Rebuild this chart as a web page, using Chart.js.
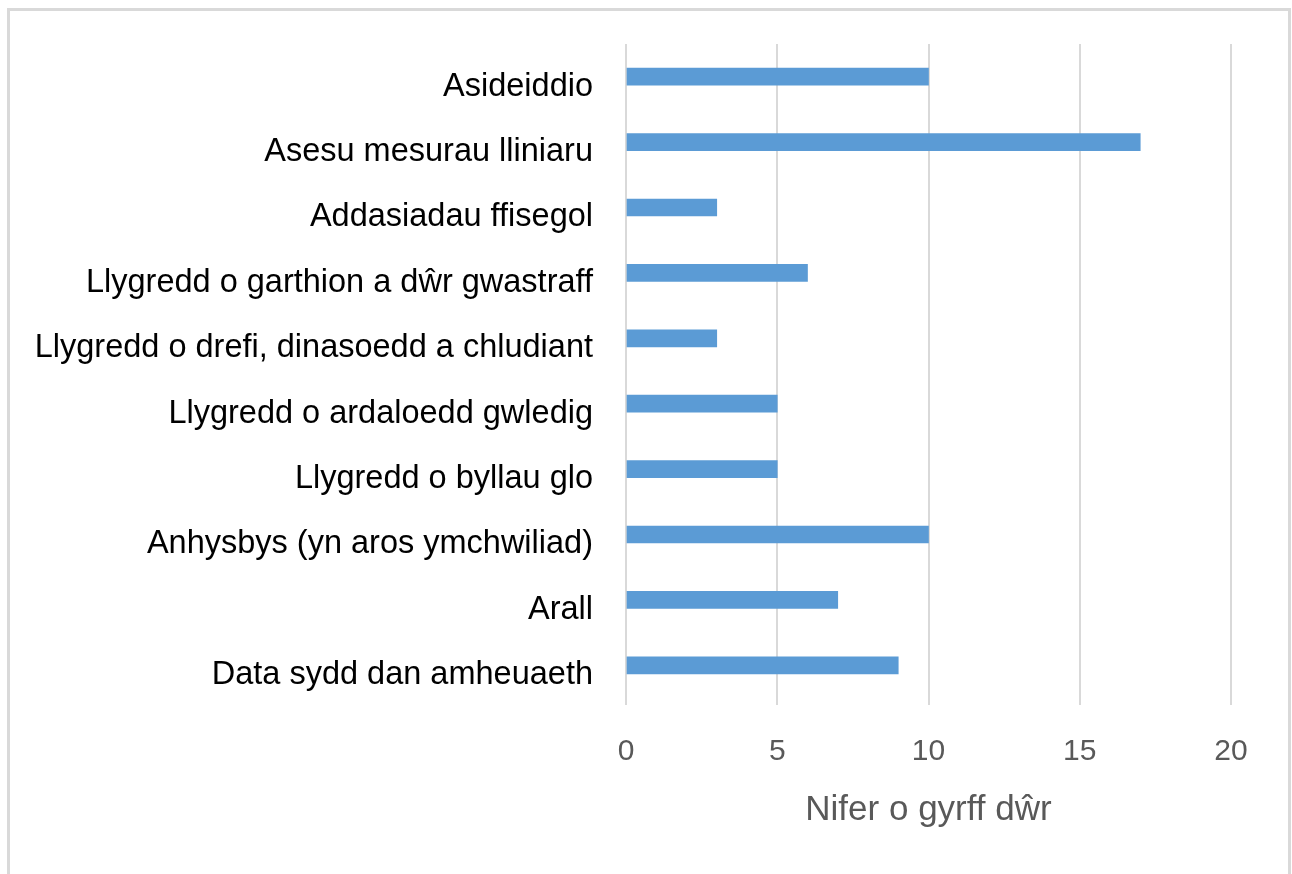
<!DOCTYPE html>
<html lang="cy">
<head>
    <meta charset="UTF-8">
    <title>Nifer o gyrff dŵr</title>
    <script src="https://cdn.jsdelivr.net/npm/chart.js"></script>
    <style>
        html, body { margin: 0; padding: 0; background: #fff; overflow: hidden; }
        body { width: 1292px; height: 874px; position: relative; }
        #frame {
            position: absolute; left: 7px; top: 8px;
            width: 1284px; height: 900px;
            box-sizing: border-box;
            border: 3px solid #d9d9d9;
        }
        #wrap { position: absolute; left: 0; top: 0; width: 1292px; height: 874px; }
    </style>
</head>
<body>
    <div id="frame"></div>
    <div id="wrap"><canvas id="chart" width="1292" height="874"></canvas></div>

    <script>
        // Categorïau a gwerthoedd
        const categories = [
            "Asideiddio",
            "Asesu mesurau lliniaru",
            "Addasiadau ffisegol",
            "Llygredd o garthion a dŵr gwastraff",
            "Llygredd o drefi, dinasoedd a chludiant",
            "Llygredd o ardaloedd gwledig",
            "Llygredd o byllau glo",
            "Anhysbys (yn aros ymchwiliad)",
            "Arall",
            "Data sydd dan amheuaeth"
        ];
        const values = [10, 17, 3, 6, 3, 5, 5, 10, 7, 9];
        const xTicks = [0, 5, 10, 15, 20];
        const xTitle = "Nifer o gyrff dŵr";

        const fontFamily = '"Liberation Sans", Arial, sans-serif';

        var ctx = document.getElementById('chart').getContext('2d');
        var chart = new Chart(ctx, {
            type: 'bar',
            data: {
                labels: categories,
                datasets: [{
                    data: values,
                    backgroundColor: '#5b9bd5',
                    borderWidth: 0,
                    barThickness: 17
                }]
            },
            options: {
                indexAxis: 'y',
                responsive: false,
                animation: false,
                devicePixelRatio: 1,
                layout: { padding: { top: 44, right: 61, bottom: 0, left: 0 } },
                plugins: {
                    legend: { display: false },
                    tooltip: { enabled: false }
                },
                scales: {
                    x: {
                        min: 0,
                        max: 20,
                        afterBuildTicks: function (scale) {
                            scale.ticks = xTicks.map(v => ({ value: v }));
                        },
                        afterFit: function (scale) { scale.height = 176; },
                        border: { display: false },
                        grid: { color: '#d9d9d9', lineWidth: 2, drawTicks: true, tickLength: 7 },
                        ticks: {
                            color: '#595959',
                            padding: 29,
                            font: { family: fontFamily, size: 30 }
                        },
                        title: {
                            display: true,
                            text: xTitle,
                            color: '#595959',
                            padding: { top: 0, bottom: 43 },
                            font: { family: fontFamily, size: 35 }
                        }
                    },
                    y: {
                        afterFit: function (scale) { scale.width = 626; },
                        border: { display: false },
                        // gap between labels and bars comes from the (hidden) tick length
                        grid: { display: false, drawTicks: true, tickLength: 33 },
                        ticks: {
                            color: '#000000',
                            padding: 0,
                            labelOffset: 10,
                            font: { family: fontFamily, size: 32.5 }
                        }
                    }
                }
            }
        });
    </script>
</body>
</html>
